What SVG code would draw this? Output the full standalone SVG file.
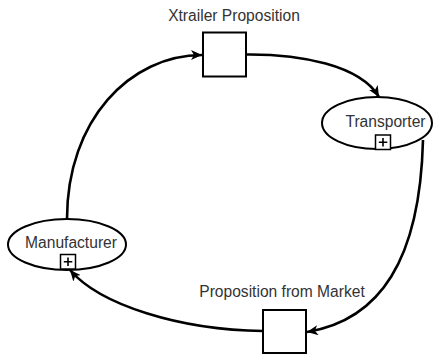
<svg xmlns="http://www.w3.org/2000/svg" width="435" height="356" viewBox="0 0 435 356">
<style>
.lbl{font-family:"Liberation Sans",Arial,sans-serif;font-size:15.6px;fill:#333333;text-anchor:middle}
.shape{fill:#ffffff;stroke:#000000;stroke-width:2}
.plus{fill:#ffffff;stroke:#000000;stroke-width:1.5}
.conn{fill:none;stroke:#000000;stroke-width:2.6;marker-end:url(#arr)}
</style>
<defs>
<marker id="arr" markerUnits="userSpaceOnUse" markerWidth="12" markerHeight="10" refX="11" refY="5" orient="auto">
<path d="M0,0 L11,5 L0,10 L3,5 z" fill="#000000"/>
</marker>
</defs>
<g id="connectors">
<path class="conn" d="M67 219 C67 120 130 55 202 55"/>
<path class="conn" d="M246 54.5 C300 54 360 65 379 97"/>
<path class="conn" d="M423 140 C420 260 380 320 307 332"/>
<path class="conn" d="M263 331 C180 330 100 305 70 270"/>
</g>
<g id="xtrailer">
<rect class="shape" x="203" y="32.5" width="43" height="44"/>
<text class="lbl" x="234" y="20.5">Xtrailer Proposition</text>
</g>
<g id="transporter">
<ellipse class="shape" cx="377" cy="123" rx="55" ry="26"/>
<text class="lbl" x="385.5" y="126.5">Transporter</text>
<rect class="plus" x="375.5" y="135" width="15" height="14.5"/>
<path d="M383 138 v8.5 M378.8 142.2 h8.5" stroke="#000" stroke-width="1.6"/>
</g>
<g id="manufacturer">
<ellipse class="shape" cx="67" cy="244.5" rx="59" ry="25.5"/>
<text class="lbl" x="71" y="247.5">Manufacturer</text>
<rect class="plus" x="60.5" y="254.5" width="15" height="14.5"/>
<path d="M68 257.5 v8.5 M63.8 261.7 h8.5" stroke="#000" stroke-width="1.6"/>
</g>
<g id="market">
<rect class="shape" x="263" y="310" width="43" height="43"/>
<text class="lbl" x="282" y="297">Proposition from Market</text>
</g>
</svg>
